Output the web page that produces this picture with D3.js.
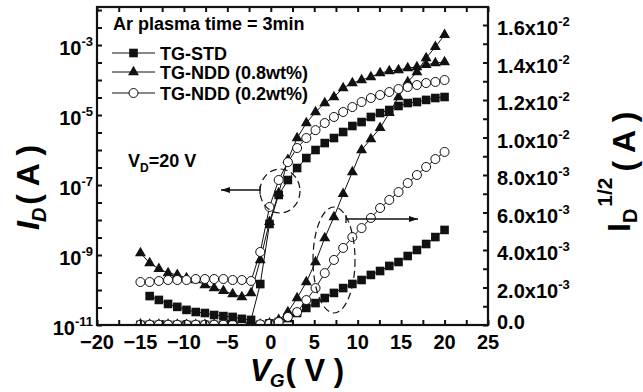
<!DOCTYPE html>
<html><head><meta charset="utf-8">
<script src="https://cdn.jsdelivr.net/npm/d3@7"></script>
<style>
html,body{margin:0;padding:0;background:#fff;}
svg{display:block;}
text{font-family:"Liberation Sans",Arial,Helvetica,sans-serif;font-weight:bold;fill:#000;}
</style></head><body>
<svg id="chart" width="643" height="392"></svg>
<script>
// Gate voltage (V)
const VG = [-15, -13.94, -12.88, -11.82, -10.76, -9.70, -8.64, -7.58, -6.52, -5.45, -4.39, -3.33, -2.27, -1.21, -0.15, 0.91, 1.97, 3.03, 4.09, 5.15, 6.21, 7.27, 8.33, 9.39, 10.45, 11.52, 12.58, 13.64, 14.70, 15.76, 16.82, 17.88, 18.94, 20];

// I_D (A), left log axis
const logSTD = [null, 6.7e-11, 5.2e-11, 4.0e-11, 3.3e-11, 2.7e-11, 2.35e-11, 2.2e-11, 1.93e-11, 1.8e-11, 1.7e-11, 1.5e-11, 1.4e-11, 1.48e-10, 7.7e-9, 5.2e-8, 1.39e-7, 3.06e-7, 5.9e-7, 1.0e-6, 1.58e-6, 2.2e-6, 3.27e-6, 4.85e-6, 6.3e-6, 8.8e-6, 1.14e-5, 1.39e-5, 1.81e-5, 2.2e-5, 2.35e-5, 2.7e-5, 3.06e-5, 3.27e-5];
const logNDD08 = [1.14e-9, 5.9e-10, 4.0e-10, 3.06e-10, 2.7e-10, 2.2e-10, 1.93e-10, 1.39e-10, 1.14e-10, 9.4e-11, 7.7e-11, 6.3e-11, 8.2e-11, 7.2e-10, 8.8e-9, 5.9e-8, 5.2e-7, 2.2e-6, 5.9e-6, 1.22e-5, 2.2e-5, 3.27e-5, 5.9e-5, 8.2e-5, 1.0e-4, 1.22e-4, 1.58e-4, 1.81e-4, 1.93e-4, 2.2e-4, 2.35e-4, 2.7e-4, 3.06e-4, 3.27e-4];
const logNDD02 = [1.69e-10, 1.69e-10, 1.81e-10, 1.93e-10, 1.93e-10, 1.93e-10, 2.06e-10, 2.06e-10, 2.06e-10, 2.06e-10, 1.93e-10, 1.93e-10, 1.81e-10, 1.22e-9, 2.35e-8, 1.39e-7, 4.5e-7, 1.14e-6, 2.2e-6, 3.7e-6, 5.9e-6, 8.8e-6, 1.22e-5, 1.69e-5, 2.35e-5, 3.06e-5, 3.73e-5, 4.54e-5, 5.53e-5, 6.3e-5, 7.2e-5, 8.2e-5, 8.8e-5, 1.0e-4];

// I_D^(1/2) (A^(1/2)), right linear axis
const sqrtSTD = [8e-6, 7e-6, 6.5e-6, 6e-6, 5.5e-6, 5e-6, 4.8e-6, 4.5e-6, 4.3e-6, 4.2e-6, 4e-6, 3.9e-6, 3.8e-6, 1.2e-5, 8.8e-5, 1.6e-4, 3.7e-4, 6.4e-4, 9.1e-4, 1.17e-3, 1.44e-3, 1.71e-3, 1.97e-3, 2.19e-3, 2.40e-3, 2.67e-3, 2.88e-3, 3.15e-3, 3.36e-3, 3.68e-3, 4.0e-3, 4.32e-3, 4.69e-3, 5.07e-3];
const sqrtNDD08 = [3.4e-5, 2.4e-5, 2.0e-5, 1.75e-5, 1.64e-5, 1.48e-5, 1.39e-5, 1.18e-5, 1.07e-5, 9.7e-6, 8.8e-6, 7.9e-6, 9.1e-6, 2.7e-5, 9.4e-5, 2.7e-4, 6.9e-4, 1.44e-3, 2.29e-3, 3.36e-3, 4.64e-3, 5.76e-3, 6.99e-3, 8.16e-3, 9.33e-3, 9.92e-3, 1.051e-2, 1.131e-2, 1.216e-2, 1.296e-2, 1.349e-2, 1.424e-2, 1.483e-2, 1.547e-2];
const sqrtNDD02 = [1.3e-5, 1.3e-5, 1.35e-5, 1.39e-5, 1.39e-5, 1.39e-5, 1.44e-5, 1.44e-5, 1.44e-5, 1.44e-5, 1.39e-5, 1.39e-5, 1.35e-5, 3.5e-5, 6e-5, 1.6e-4, 4.3e-4, 6.9e-4, 1.33e-3, 1.97e-3, 2.77e-3, 3.47e-3, 4.11e-3, 4.69e-3, 5.17e-3, 5.71e-3, 6.24e-3, 6.67e-3, 7.09e-3, 7.57e-3, 8.0e-3, 8.43e-3, 8.85e-3, 9.23e-3];

// Tick labels
const xTickLabels = [-20, -15, -10, -5, 0, 5, 10, 15, 20, 25];
const leftExponents = [-11, -9, -7, -5, -3];
const rightTickValues = [0, 0.002, 0.004, 0.006, 0.008, 0.010, 0.012, 0.014, 0.016];
const rightMantissa = ["0.0", "2.0", "4.0", "6.0", "8.0", "1.0", "1.2", "1.4", "1.6"];
const rightExponent = [null, "-3", "-3", "-3", "-3", "-2", "-2", "-2", "-2"];
const legendLabels = ["TG-STD", "TG-NDD (0.8wt%)", "TG-NDD (0.2wt%)"];

const svg = d3.select("#chart");
const L = 97, R = 488, T = 7, B = 325;
const x = d3.scaleLinear().domain([-20, 25]).range([L, R]);
const yL = d3.scaleLog().domain([1e-11, 1.22e-2]).range([B, T]);
const yR = d3.scaleLinear().domain([0, 0.01696]).range([B, T]);

svg.append("defs").append("clipPath").attr("id", "clip")
  .append("rect").attr("x", L).attr("y", T).attr("width", R - L).attr("height", B - T);

const plot = svg.append("g").attr("clip-path", "url(#clip)");

function markerSquare(g, pts) {
  g.selectAll(null).data(pts).enter().append("rect")
    .attr("x", d => d[0] - 4.3).attr("y", d => d[1] - 4.3)
    .attr("width", 8.6).attr("height", 8.6).attr("fill", "#111");
}
function markerTri(g, pts) {
  const sym = d3.symbol().type(d3.symbolTriangle).size(52);
  g.selectAll(null).data(pts).enter().append("path")
    .attr("d", sym).attr("transform", d => `translate(${d[0]},${d[1]})`).attr("fill", "#111");
}
function markerCirc(g, pts) {
  g.selectAll(null).data(pts).enter().append("circle")
    .attr("cx", d => d[0]).attr("cy", d => d[1]).attr("r", 4.5)
    .attr("fill", "#fff").attr("stroke", "#111").attr("stroke-width", 1);
}

function drawSeries(vals, yScale, marker) {
  const pts = VG.map((v, i) => vals[i] == null ? null : [x(v), yScale(vals[i])]).filter(p => p);
  const g = plot.append("g");
  g.append("path").datum(pts)
    .attr("d", d3.line())
    .attr("fill", "none").attr("stroke", "#111").attr("stroke-width", 1);
  marker(g, pts);
}

drawSeries(sqrtSTD, yR, markerSquare);
drawSeries(sqrtNDD08, yR, markerTri);
drawSeries(sqrtNDD02, yR, markerCirc);
drawSeries(logSTD, yL, markerSquare);
drawSeries(logNDD08, yL, markerTri);
drawSeries(logNDD02, yL, markerCirc);

// axes ticks
function styleAxis(g) {
  g.select(".domain").remove();
  g.selectAll("line").attr("stroke", "#111").attr("stroke-width", 2);
  g.selectAll("text").remove();
}
const xMinor = d3.range(-20, 25.01, 2.5);
svg.append("g").attr("transform", `translate(0,${B})`)
  .call(d3.axisBottom(x).tickValues(xMinor).tickSize(-5).tickFormat("")).call(styleAxis);
svg.append("g").attr("transform", `translate(0,${T})`)
  .call(d3.axisTop(x).tickValues(xMinor).tickSize(-5).tickFormat("")).call(styleAxis);
const leftTicks = d3.range(-11, -1.99, 0.5).map(e => Math.pow(10, e));
svg.append("g").attr("transform", `translate(${L},0)`)
  .call(d3.axisLeft(yL).tickValues(leftTicks).tickSize(-5).tickFormat("")).call(styleAxis);
const rightTicks = d3.range(0, 0.01696, 0.001);
svg.append("g").attr("transform", `translate(${R},0)`)
  .call(d3.axisRight(yR).tickValues(rightTicks).tickSize(-5).tickFormat("")).call(styleAxis);

// frame
svg.append("rect").attr("x", L).attr("y", T).attr("width", R - L).attr("height", B - T)
  .attr("fill", "none").attr("stroke", "#111").attr("stroke-width", 2.2);

// x tick labels
svg.append("g").selectAll("text").data(xTickLabels).enter().append("text")
  .attr("x", d => x(d)).attr("y", 349).attr("text-anchor", "middle")
  .attr("font-size", 20).text(d => d < 0 ? "\u2212" + Math.abs(d) : d);

// left tick labels
leftExponents.forEach(e => {
  const t = svg.append("text").attr("x", 93).attr("y", yL(Math.pow(10, e)) + 10)
    .attr("text-anchor", "end");
  t.append("tspan").attr("font-size", 20).text("10");
  t.append("tspan").attr("font-size", 13).attr("dy", -9).text(String(e));
});

// right tick labels
rightTickValues.forEach((v, i) => {
  const t = svg.append("text").attr("x", 497)
    .attr("y", yR(v) + (rightExponent[i] ? 10 : 4));
  t.append("tspan").attr("font-size", 20).text(rightMantissa[i] + (rightExponent[i] ? "x10" : ""));
  if (rightExponent[i]) t.append("tspan").attr("font-size", 13).attr("dy", -9).text(rightExponent[i]);
});

// axis titles
const xt = svg.append("text").attr("x", 250).attr("y", 381);
xt.append("tspan").attr("font-size", 31).attr("font-style", "italic").text("V");
xt.append("tspan").attr("font-size", 19).attr("font-style", "italic").attr("dy", 6).attr("dx", -1).text("G");
xt.append("tspan").attr("font-size", 31).attr("dy", -6).attr("dx", 1).text("( V )");

const lt = svg.append("text").attr("transform", "translate(39,230) rotate(-90)");
lt.append("tspan").attr("font-size", 32).attr("font-style", "italic").text("I");
lt.append("tspan").attr("font-size", 20).attr("font-style", "italic").attr("dy", 7).attr("dx", -1).text("D");
lt.append("tspan").attr("font-size", 32).attr("dy", -7).attr("dx", 3).text("( A )");

const rt = svg.append("text").attr("transform", "translate(630,232) rotate(-90)");
rt.append("tspan").attr("font-size", 32).text("I");
rt.append("tspan").attr("font-size", 20).attr("dy", 7).text("D");
rt.append("tspan").attr("font-size", 21).attr("dy", -25).attr("dx", 2).text("1/2");
rt.append("tspan").attr("font-size", 32).attr("dy", 23).attr("dx", 6).text("( A )");

// annotations
svg.append("text").attr("x", 113).attr("y", 30).attr("font-size", 18).text("Ar plasma time = 3min");
const legRows = [53, 72, 93];
const legMarkers = [markerSquare, markerTri, markerCirc];
legRows.forEach((yy, i) => {
  const g = svg.append("g");
  g.append("line").attr("x1", 112).attr("x2", 155).attr("y1", yy).attr("y2", yy)
    .attr("stroke", "#111").attr("stroke-width", 1);
  legMarkers[i](g, [[133.5, yy]]);
  svg.append("text").attr("x", 160).attr("y", yy + 7).attr("font-size", 18).text(legendLabels[i]);
});

const vd = svg.append("text").attr("x", 128).attr("y", 167);
vd.append("tspan").attr("font-size", 18).text("V");
vd.append("tspan").attr("font-size", 12).attr("dy", 5).text("D");
vd.append("tspan").attr("font-size", 18).attr("dy", -5).text("=20 V");

// dashed ellipses
svg.append("ellipse").attr("cx", 280).attr("cy", 191).attr("rx", 20).attr("ry", 22)
  .attr("fill", "none").attr("stroke", "#111").attr("stroke-width", 1.2).attr("stroke-dasharray", "7,4");
svg.append("ellipse").attr("cx", 334).attr("cy", 260).attr("rx", 21).attr("ry", 53)
  .attr("fill", "none").attr("stroke", "#111").attr("stroke-width", 1.2).attr("stroke-dasharray", "7,4");

// arrows
function arrow(x1, x2, y, dir) {
  svg.append("line").attr("x1", x1).attr("x2", x2).attr("y1", y).attr("y2", y)
    .attr("stroke", "#111").attr("stroke-width", 1.3);
  svg.append("line").attr("x1", x1).attr("x2", x1).attr("y1", y - 4).attr("y2", y + 4)
    .attr("stroke", "#111").attr("stroke-width", 1.3);
  const tip = x2, base = x2 - dir * 9;
  svg.append("path").attr("d", `M${tip},${y}L${base},${y - 3}L${base},${y + 3}Z`).attr("fill", "#111");
}
arrow(260, 221, 190, -1);
arrow(346, 418, 219, 1);
</script>
</body></html>
